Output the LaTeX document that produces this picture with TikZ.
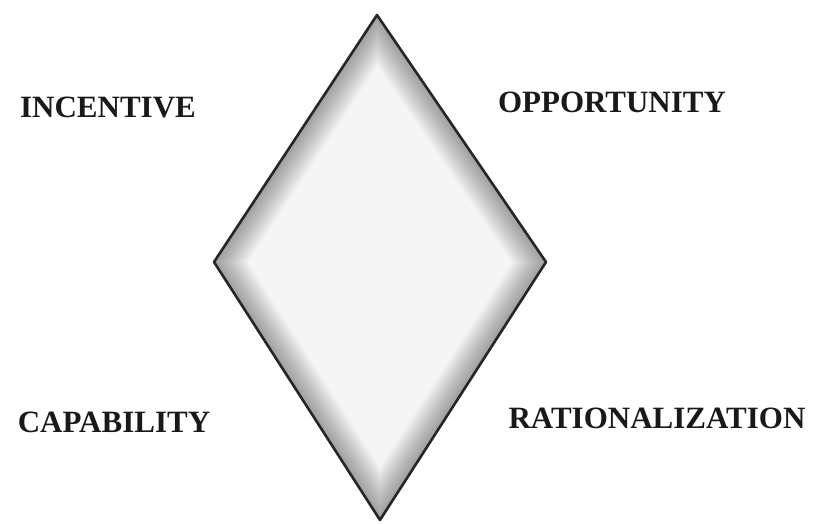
\documentclass[tikz,border=0pt]{standalone}
\usepackage{fontspec}
\setmainfont{Liberation Serif}
\begin{document}
\begin{tikzpicture}[x=1pt,y=-1pt,
  lbl/.style={font=\bfseries\fontsize{31}{34}\selectfont, inner sep=0pt, text=black!90}]
\useasboundingbox (0,0) rectangle (819,523);
\coordinate (T) at (377,15);
\coordinate (L) at (214,262);
\coordinate (R) at (546,262);
\coordinate (B) at (380,520);
\begin{scope}
  \clip (T) -- (R) -- (B) -- (L) -- cycle;
  \fill[black!4] (T) -- (R) -- (B) -- (L) -- cycle;
  \foreach \w in {4,8,...,56}{
    \draw[line width=\w pt, black, opacity=0.028, line join=round] (T) -- (R) -- (B) -- (L) -- cycle;
  }
\end{scope}
\draw[line width=2.6pt, black!85, line join=round] (T) -- (R) -- (B) -- (L) -- cycle;
\node[lbl] (inc) at (108,107) {INCENTIVE};
\node[lbl] (opp) at (612,102) {OPPORTUNITY};
\node[lbl] (cap) at (114,422) {CAPABILITY};
\node[lbl] (rat) at (657,418) {RATIONALIZATION};
\end{tikzpicture}
\end{document}
